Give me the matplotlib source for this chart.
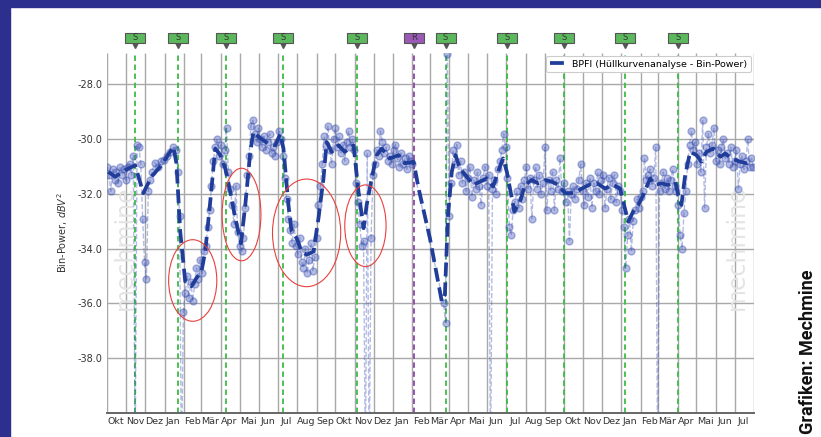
import numpy as np
import matplotlib
matplotlib.use("Agg")
import matplotlib.pyplot as plt
import matplotlib.dates as mdates
from matplotlib.patches import Ellipse, Rectangle
import pandas as pd

# start of the time axis, all "day" values are days after this date
start = pd.Timestamp("2020-10-01")
end = pd.Timestamp("2023-08-01")

# raw measurements, every 3 days inside each block (-42 / -26.9 = off-chart spikes)
seg1_start = 0
seg1_vals = [-31.0, -31.3, -31.9, -31.1, -31.5, -31.2, -31.6, -31.0, -31.3, -31.1,
             -31.5, -31.0, -30.9, -31.3, -30.6, -42.0, -30.2, -30.3, -30.9, -32.9,
             -34.5, -35.1, -31.9, -31.5]

seg2_days = [72, 76, 81, 86, 91, 96, 101, 106]
seg2_vals = [-31.2, -30.85, -31.0, -30.8, -30.75, -30.6, -30.45, -30.3]

seg3_start = 110
seg3_vals = [-30.4, -31.2, -32.8, -42.0, -36.3, -35.6, -35.0, -35.8, -35.2, -35.9,
             -35.3, -34.7, -35.1, -34.4, -34.9, -34.1, -33.9, -33.2, -32.6, -31.7,
             -30.8, -30.3, -30.0, -30.6, -30.2, -30.9, -30.4, -29.6, -31.2, -31.8,
             -32.4, -33.1, -31.7, -33.4, -33.9, -34.1, -33.6, -32.5, -31.3, -30.6,
             -29.5, -29.3, -29.8, -30.1, -29.6, -30.0, -30.3, -29.9, -30.4, -30.1,
             -29.8, -30.5, -30.3, -30.6, -30.1, -29.7, -30.0, -30.6, -31.4, -32.2,
             -32.9, -33.3, -33.8, -33.1, -33.9, -34.2, -33.6, -34.5, -34.7, -34.0,
             -34.9, -34.4, -33.8, -34.8, -34.3, -33.6, -32.4, -31.7, -30.9, -29.9,
             -30.2, -29.5, -30.4, -30.9, -30.0, -29.6, -30.3, -29.9, -30.5, -30.2,
             -30.8, -30.1, -29.7, -30.3, -30.0, -30.4, -31.6, -32.3, -33.1, -33.9,
             -33.7, -42.0, -30.5, -42.0, -33.6, -31.3, -30.9, -30.4, -30.6, -29.7,
             -30.1, -30.5, -30.3, -30.8, -30.6, -30.9, -30.4, -30.2, -30.7, -31.0,
             -30.5, -30.9, -30.7, -31.1, -30.6, -30.8, -30.9]

seg5_start = 538
seg5_vals = [-36.0, -36.7, -26.9, -32.8, -31.6, -30.4, -30.9, -30.2, -31.3, -30.8,
             -31.6, -31.2, -31.9, -31.4, -31.0, -32.1, -31.5, -31.8, -31.2, -31.7,
             -32.4, -31.4, -31.0, -31.7, -31.3, -42.0, -31.8, -31.5, -32.0, -31.1,
             -30.8, -30.4, -29.8, -30.3, -31.4, -33.2, -33.5, -32.6, -32.3, -31.9,
             -32.5, -31.7, -32.2, -31.5, -31.0, -31.8, -31.4, -32.9, -31.5, -31.0,
             -31.8, -31.3, -32.0, -31.6, -30.3, -32.6, -31.5, -31.9, -31.2, -32.6,
             -31.5, -31.8, -30.7, -31.9, -31.6, -32.3, -31.9, -33.7, -32.0, -31.7,
             -32.2, -31.8, -31.5, -30.9, -31.9, -32.4, -31.6, -32.1, -31.4, -32.5,
             -31.6, -31.9, -31.2, -32.0, -31.5, -31.3, -32.5, -31.8, -31.4, -32.2,
             -31.6, -31.3, -32.3, -31.7, -31.9, -32.6, -33.2, -34.7, -33.5, -32.9,
             -34.1, -33.0, -32.6, -32.2, -32.5, -32.1, -31.9, -30.7, -31.5, -31.3,
             -31.1, -31.7, -31.4, -30.3, -42.0, -31.9, -31.6, -31.2, -31.8, -31.4,
             -31.9, -31.5, -31.1, -31.7, -31.9, -32.4, -33.5, -34.0, -32.7, -31.9,
             -30.9, -30.2, -29.7, -30.4, -30.1, -30.9, -30.5, -31.2, -29.3, -32.5,
             -30.3, -29.8, -30.5, -30.2, -29.6, -30.8, -30.4, -30.9, -30.3, -30.0,
             -30.7, -30.5, -30.9, -30.3, -31.0, -30.8, -30.4, -31.8, -30.9, -30.6,
             -31.1, -30.8, -30.0, -31.0, -30.7, -31.0]
step = 3

# trend (thick dashed line)
trend_day = [2, 13, 29, 45, 58, 71, 87, 106, 111, 117, 125, 135, 143, 151, 157, 165,
             173, 181, 189, 197, 205, 214, 221, 229, 234, 245, 258, 269, 277, 282, 290,
             295, 303, 311, 319, 330, 338, 346, 351, 359, 370, 380, 394, 402, 410, 415,
             423, 431, 439, 452, 466, 476, 490, 498, 516, 535, 540, 545, 551, 557, 564,
             575, 585, 596, 607, 617, 625, 633, 639, 646, 651, 660, 668, 679, 689, 700,
             711, 721, 732, 745, 759, 772, 783, 796, 809, 820, 825, 833, 841, 849, 857,
             868, 876, 886, 897, 908, 913, 918, 924, 932, 942, 950, 958, 969, 980, 988,
             998, 1012, 1022, 1032]
trend_val = [-31.19, -31.37, -31.13, -30.95, -31.97, -31.37, -30.95, -30.28, -30.88, -33.37,
             -35.19, -35.37, -35.07, -34.82, -34.1, -32.28, -30.34, -30.58, -31.07, -31.92,
             -32.88, -33.8, -32.4, -30.46, -29.73, -29.97, -30.16, -30.22, -29.8, -30.34,
             -32.4, -33.37, -33.61, -34.1, -34.22, -34.1, -32.88, -31.43, -30.1, -30.46,
             -30.22, -30.46, -30.22, -31.92, -33.25, -32.4, -31.43, -30.58, -30.34, -30.7,
             -30.58, -30.88, -30.82, -31.8, -33.61, -35.92, -35.67, -32.76, -31.19, -30.58,
             -31.07, -31.37, -31.67, -31.55, -31.43, -31.73, -31.19, -30.7, -31.19, -32.04,
             -32.64, -32.28, -31.67, -31.49, -31.61, -31.49, -31.55, -31.67, -31.97, -31.97,
             -31.8, -31.65, -31.61, -31.8, -31.67, -31.8, -32.28, -33.01, -32.64, -32.4,
             -32.04, -31.43, -31.67, -31.61, -31.67, -31.55, -32.04, -32.4, -31.31, -30.46,
             -30.58, -30.82, -30.46, -30.34, -30.64, -30.52, -30.7, -30.82, -30.88, -30.76]

# maintenance events
event_dates = ["2020-11-15", "2021-01-23", "2021-04-09", "2021-07-10", "2021-11-05",
               "2022-02-03", "2022-03-26", "2022-07-02", "2022-10-02", "2023-01-07",
               "2023-04-02"]
event_kinds = ["S", "S", "S", "S", "S", "R", "S", "S", "S", "S", "S"]

# red ellipses: center day, center value, width (days), height
ell_day = [137, 215, 319, 413]
ell_val = [-35.16, -32.75, -33.42, -33.16]
ell_w = [77, 62, 109, 66]
ell_h = [2.98, 3.38, 3.93, 2.98]

months_de = ["Jan", "Feb", "Mär", "Apr", "Mai", "Jun", "Jul", "Aug", "Sep", "Okt", "Nov", "Dez"]
yticks = [-28, -30, -32, -34, -36, -38]

base = mdates.date2num(start)
raw_day = np.concatenate([seg1_start + step * np.arange(len(seg1_vals)),
                          seg2_days,
                          seg3_start + step * np.arange(len(seg3_vals)),
                          seg5_start + step * np.arange(len(seg5_vals))])
raw_val = np.concatenate([seg1_vals, seg2_vals, seg3_vals, seg5_vals])

fig = plt.figure(figsize=(8.21, 4.37), dpi=100)
navy = "#2d2f8f"
fig.patches.append(Rectangle((0, 1 - 7 / 437), 1, 7 / 437, transform=fig.transFigure,
                             color=navy, zorder=10))
fig.patches.append(Rectangle((0, 0), 10 / 821, 1, transform=fig.transFigure,
                             color=navy, zorder=10))

ax = fig.add_axes([107 / 821, 24 / 437, 647 / 821, 360 / 437])
ax.set_xlim(base, mdates.date2num(end))
ax.set_ylim(-40, -26.85)

# month grid lines (month starts) and value grid
month_x = [mdates.date2num(m) for m in pd.date_range(start, end, freq="MS")]
ax.vlines(month_x, -40, -26.85, colors="#a8a8a8", lw=1.0, zorder=1)
ax.yaxis.grid(True, color="#a8a8a8", lw=1.0)
ax.set_axisbelow(True)

ax.plot(base + raw_day, raw_val, color="#4257b8", alpha=0.4, lw=1.0, ls="--",
        marker="o", ms=5, mec="#3a4fb0", zorder=3)
ax.plot(base + np.array(trend_day), trend_val, color="#1f3d99", lw=2.7, ls="--",
        zorder=4, label="BPFI (Hüllkurvenanalyse - Bin-Power)")

for d, v, w, h in zip(ell_day, ell_val, ell_w, ell_h):
    ax.add_patch(Ellipse((base + d, v), w, h, fill=False, ec="#e8403c", lw=0.8, zorder=5))

trans = ax.get_xaxis_transform()
for dstr, kind in zip(event_dates, event_kinds):
    x = mdates.datestr2num(dstr)
    lc = "#3dbb45" if kind == "S" else "#8e44ad"
    fc = "#5cb85c" if kind == "S" else "#9b59b6"
    ax.axvline(x, color=lc, lw=1.3, ls=(0, (3, 2)), zorder=2)
    ax.add_patch(Rectangle((x - 16, 1.028), 32, 0.028, transform=trans, fc=fc,
                           ec="#555555", lw=0.8, clip_on=False, zorder=6))
    ax.plot([x], [1.022], marker="v", ms=4, color="#555555", transform=trans,
            clip_on=False, zorder=5)
    ax.text(x, 1.043, kind, transform=trans, ha="center", va="center", fontsize=6,
            color="#333333", zorder=7, clip_on=False)

# axis formatting
ax.xaxis.set_major_locator(mdates.MonthLocator(bymonthday=15))
ax.xaxis.set_major_formatter(plt.FuncFormatter(
    lambda x, pos: months_de[mdates.num2date(x).month - 1]))
ax.tick_params(axis="x", length=0, labelsize=6.8, colors="#333333", pad=3)
ax.set_yticks(yticks)
ax.set_yticklabels([f"{t:.1f}" for t in yticks])
ax.tick_params(axis="y", length=0, labelsize=7, colors="#333333", pad=3)
for s in ["top", "right", "left"]:
    ax.spines[s].set_visible(False)
ax.spines["bottom"].set_color("#666666")
ax.spines["bottom"].set_linewidth(1.4)
ax.set_ylabel("Bin-Power, $dBV^2$", fontsize=7, color="#333333", labelpad=6)

ax.text(0.028, 0.46, "mechmine", transform=ax.transAxes, rotation=90, ha="center",
        va="center", fontsize=17, color="#e4e4e4", zorder=1)
ax.text(0.974, 0.46, "mechmine", transform=ax.transAxes, rotation=90, ha="center",
        va="center", fontsize=17, color="#e4e4e4", zorder=1)

leg = ax.legend(loc="upper right", fontsize=6.8, borderaxespad=0.3, handlelength=1.6,
                framealpha=1.0, edgecolor="#cccccc")
leg.get_frame().set_linewidth(0.8)

fig.text(808 / 821, 3 / 437, "Grafiken: Mechmine", rotation=90, ha="center", va="bottom",
         fontsize=13, fontweight="bold", color="#111111",
         family=["Roboto", "DejaVu Sans"])

fig.savefig("out.png", dpi=100)
